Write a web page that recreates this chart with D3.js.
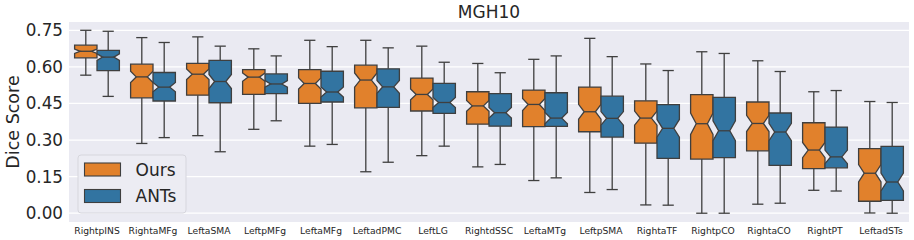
<!DOCTYPE html>
<html>
<head>
<meta charset="utf-8">
<script src="https://cdn.jsdelivr.net/npm/d3@7"></script>
<style>
  body { margin: 0; background: #fff; }
  svg { display: block; font-family: "DejaVu Sans", sans-serif; }
</style>
</head>
<body>
<svg width="914" height="240"></svg>
<script>
// regions, left to right
var categories = ["RightpINS", "RightaMFg", "LeftaSMA", "LeftpMFg", "LeftaMFg", "LeftadPMC", "LeftLG",
                  "RightdSSC", "LeftaMTg", "LeftpSMA", "RightaTF", "RightpCO", "RightaCO", "RightPT", "LeftadSTs"];
var seriesNames = ["Ours", "ANTs"];

// [whisker low, q1, median, q3, whisker high]
var ours = [
  [0.566, 0.637, 0.664, 0.689, 0.750],
  [0.286, 0.473, 0.559, 0.611, 0.720],
  [0.318, 0.484, 0.570, 0.614, 0.723],
  [0.344, 0.487, 0.558, 0.589, 0.674],
  [0.275, 0.450, 0.532, 0.589, 0.709],
  [0.170, 0.432, 0.546, 0.607, 0.709],
  [0.236, 0.419, 0.487, 0.554, 0.685],
  [0.190, 0.365, 0.440, 0.498, 0.614],
  [0.134, 0.355, 0.446, 0.505, 0.631],
  [0.085, 0.334, 0.416, 0.517, 0.717],
  [0.034, 0.287, 0.390, 0.461, 0.612],
  [0.000, 0.222, 0.367, 0.486, 0.662],
  [0.037, 0.256, 0.368, 0.456, 0.625],
  [0.094, 0.183, 0.259, 0.371, 0.498],
  [0.001, 0.049, 0.164, 0.265, 0.458]
];
var ants = [
  [0.479, 0.585, 0.640, 0.668, 0.746],
  [0.310, 0.460, 0.517, 0.577, 0.700],
  [0.252, 0.453, 0.540, 0.627, 0.685],
  [0.379, 0.490, 0.530, 0.571, 0.645],
  [0.282, 0.456, 0.497, 0.582, 0.683],
  [0.209, 0.434, 0.518, 0.592, 0.678],
  [0.275, 0.409, 0.454, 0.532, 0.619],
  [0.200, 0.357, 0.412, 0.490, 0.576],
  [0.145, 0.356, 0.390, 0.494, 0.645],
  [0.097, 0.312, 0.389, 0.480, 0.642],
  [0.033, 0.225, 0.348, 0.445, 0.585],
  [0.000, 0.228, 0.338, 0.475, 0.655],
  [0.041, 0.196, 0.333, 0.411, 0.581],
  [0.091, 0.186, 0.231, 0.353, 0.503],
  [0.000, 0.053, 0.128, 0.274, 0.454]
];
var yTicks = [0.00, 0.15, 0.30, 0.45, 0.60, 0.75];
var nPairs = 90;   // samples per box, used for the notch (1.57 * IQR / sqrt(n))

var colors = ["#E1812C", "#3274A1"];
var gray = "#3f3f3f";

var svg = d3.select("svg"),
    x0Plot = 69, x1Plot = 909, y0Plot = 22, y1Plot = 222;

var xScale = d3.scaleBand().domain(categories).range([x0Plot, x1Plot]).padding(0),
    yScale = d3.scaleLinear().domain([-0.036, 0.784]).range([y1Plot, y0Plot]);

svg.append("rect")
   .attr("x", x0Plot).attr("y", y0Plot)
   .attr("width", x1Plot - x0Plot).attr("height", y1Plot - y0Plot)
   .attr("fill", "#EAEAF2");

// horizontal grid
svg.append("g")
   .selectAll("line")
   .data(yTicks)
   .enter().append("line")
   .attr("x1", x0Plot).attr("x2", x1Plot)
   .attr("y1", function(d) { return yScale(d); })
   .attr("y2", function(d) { return yScale(d); })
   .attr("stroke", "#fff")
   .attr("stroke-width", 1.2);

// y axis
var yAxis = svg.append("g")
   .attr("transform", "translate(" + x0Plot + ",0)")
   .call(d3.axisLeft(yScale).tickValues(yTicks).tickSize(0).tickPadding(6).tickFormat(d3.format(".2f")));
yAxis.select(".domain").remove();
yAxis.selectAll("text").attr("font-size", "16.8px").attr("fill", "#262626").attr("font-family", "DejaVu Sans");

// x axis
var xAxis = svg.append("g")
   .attr("transform", "translate(0," + y1Plot + ")")
   .call(d3.axisBottom(xScale).tickSize(0).tickPadding(5));
xAxis.select(".domain").remove();
xAxis.selectAll("text").attr("font-size", "9.2px").attr("fill", "#262626").attr("font-family", "DejaVu Sans");

svg.append("text")
   .attr("x", (x0Plot + x1Plot) / 2).attr("y", 18.3)
   .attr("text-anchor", "middle")
   .attr("font-size", "17px").attr("fill", "#262626")
   .text("MGH10");

svg.append("text")
   .attr("transform", "translate(18.5," + (y0Plot + y1Plot) / 2 + ") rotate(-90)")
   .attr("text-anchor", "middle")
   .attr("font-size", "17.5px").attr("fill", "#262626")
   .text("Dice Score");

// boxes
var bw = xScale.bandwidth() * 0.4;

function boxPath(s, x0) {
  var q1 = s[1], med = s[2], q3 = s[3];
  var notch = 1.57 * (q3 - q1) / Math.sqrt(nPairs);
  var l = x0, r = x0 + bw, cl = x0 + bw * 0.25, cr = x0 + bw * 0.75;
  var pts = [[l, q1], [r, q1], [r, med - notch], [cr, med], [r, med + notch], [r, q3],
             [l, q3], [l, med + notch], [cl, med], [l, med - notch]];
  return "M" + pts.map(function(p) { return p[0] + "," + yScale(p[1]); }).join("L") + "Z";
}

[ours, ants].forEach(function(stats, k) {
  var g = svg.append("g");
  var items = stats.map(function(s, i) {
    return { s: s, x0: xScale(categories[i]) + xScale.bandwidth() * 0.1 + k * bw };
  });

  var grp = g.selectAll(".box")
     .data(items)
     .enter().append("g")
     .attr("class", "box");

  // whiskers
  grp.append("line")
     .attr("x1", function(d) { return d.x0 + bw / 2; })
     .attr("x2", function(d) { return d.x0 + bw / 2; })
     .attr("y1", function(d) { return yScale(d.s[0]); })
     .attr("y2", function(d) { return yScale(d.s[1]); })
     .attr("stroke", gray).attr("stroke-width", 1.3);
  grp.append("line")
     .attr("x1", function(d) { return d.x0 + bw / 2; })
     .attr("x2", function(d) { return d.x0 + bw / 2; })
     .attr("y1", function(d) { return yScale(d.s[3]); })
     .attr("y2", function(d) { return yScale(d.s[4]); })
     .attr("stroke", gray).attr("stroke-width", 1.3);
  // caps
  [0, 4].forEach(function(j) {
    grp.append("line")
       .attr("x1", function(d) { return d.x0 + bw * 0.25; })
       .attr("x2", function(d) { return d.x0 + bw * 0.75; })
       .attr("y1", function(d) { return yScale(d.s[j]); })
       .attr("y2", function(d) { return yScale(d.s[j]); })
       .attr("stroke", gray).attr("stroke-width", 1.3);
  });

  grp.append("path")
     .attr("d", function(d) { return boxPath(d.s, d.x0); })
     .attr("fill", colors[k])
     .attr("stroke", gray).attr("stroke-width", 1.3)
     .attr("stroke-linejoin", "miter");

  // median
  grp.append("line")
     .attr("x1", function(d) { return d.x0 + bw * 0.25; })
     .attr("x2", function(d) { return d.x0 + bw * 0.75; })
     .attr("y1", function(d) { return yScale(d.s[2]); })
     .attr("y2", function(d) { return yScale(d.s[2]); })
     .attr("stroke", gray).attr("stroke-width", 1.3);
});

// legend
var lg = svg.append("g");
lg.append("rect")
  .attr("x", 78).attr("y", 155).attr("width", 108).attr("height", 58)
  .attr("rx", 3)
  .attr("fill", "#ECECF3").attr("stroke", "#d6d6dd").attr("stroke-width", 1);

seriesNames.forEach(function(name, k) {
  var yy = 163 + k * 26.5;
  lg.append("rect")
    .attr("x", 84.5).attr("y", yy).attr("width", 36).attr("height", 13)
    .attr("fill", colors[k]).attr("stroke", gray).attr("stroke-width", 1.1);
  lg.append("text")
    .attr("x", 135.5).attr("y", yy + 12.5)
    .attr("font-size", "17px").attr("fill", "#262626")
    .text(name);
});
</script>
</body>
</html>
